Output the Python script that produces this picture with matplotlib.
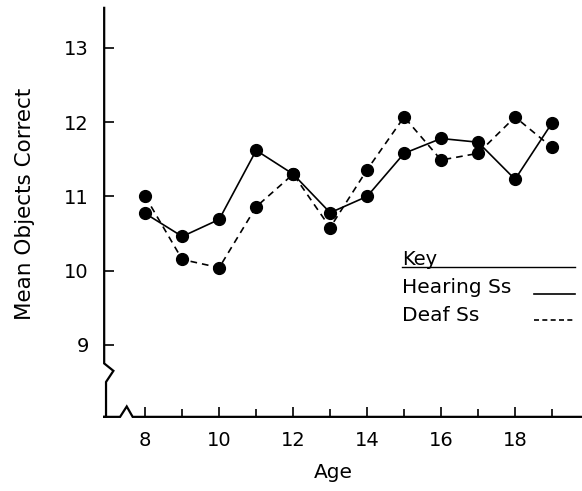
import matplotlib.pyplot as plt

# Mean objects correct by age
ages = [8, 9, 10, 11, 12, 13, 14, 15, 16, 17, 18, 19]
hearing = [10.77, 10.46, 10.69, 11.62, 11.30, 10.78, 11.00, 11.58, 11.78, 11.73, 11.23, 11.99]
deaf = [11.00, 10.15, 10.04, 10.86, 11.30, 10.58, 11.36, 12.07, 11.49, 11.58, 12.07, 11.66]

xticks = [8, 10, 12, 14, 16, 18]
yticks = [9, 10, 11, 12, 13]

plt.rcParams['font.family'] = ['DejaVu Sans']

fig = plt.figure(figsize=(5.82, 4.91), dpi=100)
ax = fig.add_axes([0.179, 0.151, 0.821, 0.833])

ax.plot(ages, hearing, color='black', lw=1.2, marker='o', ms=8.5, mfc='black', mec='black')
ax.plot(ages, deaf, color='black', lw=1.2, ls=(0, (4, 3)), marker='o', ms=8.5, mfc='black', mec='black')

x0, x1 = 6.89, 19.81
y0, y1 = 8.03, 13.54
ax.set_xlim(x0, x1)
ax.set_ylim(y0, y1)

for s in ax.spines.values():
    s.set_visible(False)

# hand drawn axes with break marks
kw = dict(color='black', lw=1.6, clip_on=False, solid_joinstyle='miter')
ax.plot([x0, x0, x0 + 0.25, x0 + 0.05, x0 + 0.05, x0],
        [y1, 8.75, 8.65, 8.50, y0, y0], **kw)
ax.plot([x0, 7.32, 7.5, 7.66, x1], [y0, y0, y0 + 0.14, y0, y0], **kw)

ax.set_xticks(xticks)
ax.set_yticks(yticks)
ax.set_xticks(ages, minor=True)
ax.tick_params(axis='both', direction='in', length=7, width=1.2, labelsize=14, pad=10)
ax.tick_params(axis='x', which='minor', direction='in', length=6, width=1.2)
ax.tick_params(axis='y', pad=11)

ax.set_xlabel('Age', fontsize=14.5)
ax.xaxis.set_label_coords(0.479, -0.112)
ax.set_ylabel('Mean Objects Correct', fontsize=15.5, labelpad=22)
ax.yaxis.set_label_coords(-0.145, 0.52)

# key drawn as text block
ax.text(14.95, 10.15, 'Key', fontsize=14, va='center', ha='left')
ax.plot([14.95, 19.62], [10.05, 10.05], color='black', lw=1.0)
ax.text(14.95, 9.77, 'Hearing Ss', fontsize=14.5, va='center', ha='left')
ax.plot([18.5, 19.62], [9.68, 9.68], color='black', lw=1.2)
ax.text(14.95, 9.40, 'Deaf Ss', fontsize=14.5, va='center', ha='left')
ax.plot([18.5, 19.62], [9.34, 9.34], color='black', lw=1.2, ls=(0, (3, 2)))

fig.savefig('out.png', dpi=100)
